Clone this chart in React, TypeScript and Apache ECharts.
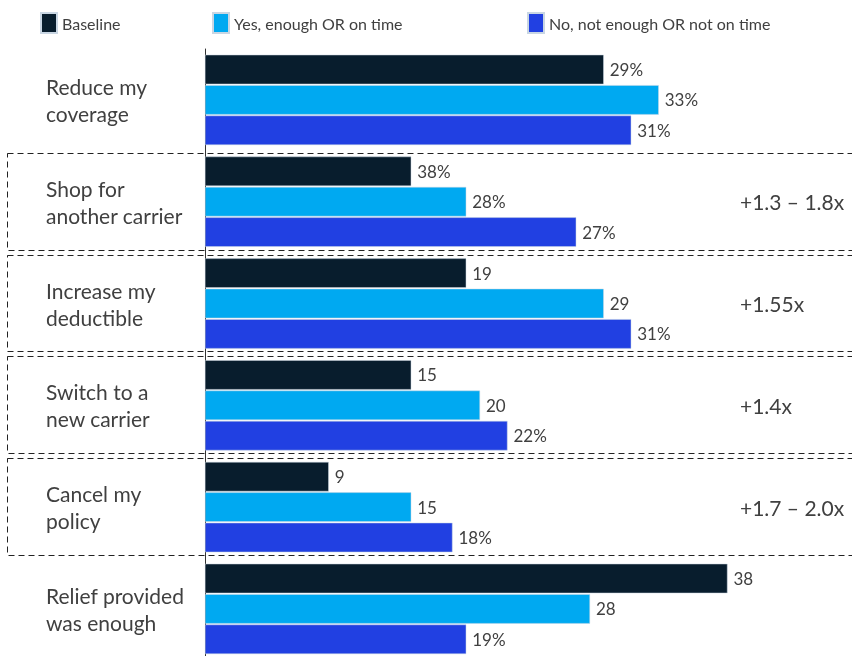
import React, { useEffect, useRef } from "react";
import * as echarts from "echarts";

const categories = [
  "Reduce my\ncoverage",
  "Shop for\nanother carrier",
  "Increase my\ndeductible",
  "Switch to a\nnew carrier",
  "Cancel my\npolicy",
  "Relief provided\nwas enough",
];
const seriesNames = ["Baseline", "Yes, enough OR on time", "No, not enough OR not on time"];
const baselineValues = [29, 15, 19, 15, 9, 38];
const yesValues = [33, 19, 29, 20, 15, 28];
const noValues = [31, 27, 31, 22, 18, 19];
const baselineLabels = ["29%", "38%", "19", "15", "9", "38"];
const yesLabels = ["33%", "28%", "29", "20", "15", "28"];
const noLabels = ["31%", "27%", "31%", "22%", "18%", "19%"];
const annotations = ["", "+1.3 – 1.8x", "+1.55x", "+1.4x", "+1.7 – 2.0x", ""];
const colors = ["#081d2d", "#00a9f1", "#2140e2"];

const FONT = "Lato, 'Open Sans', sans-serif";
const TEXT_COLOR = "#404040";
const GRID_TOP = 49;
const BAND = 101.8;
const GRID_LEFT = 205;

export default function App() {
  const ref = useRef<HTMLDivElement>(null);
  useEffect(() => {
    if (!ref.current) return;
    const chart = echarts.init(ref.current, null, { renderer: "svg" });
    const values = [baselineValues, yesValues, noValues];
    const labels = [baselineLabels, yesLabels, noLabels];
    const legendLeft = [40, 212, 527];

    const graphic: any[] = [];
    annotations.forEach((a, i) => {
      if (!a) return;
      const top = Math.round(GRID_TOP + i * BAND + 2) + 0.5;
      const bottom = Math.round(GRID_TOP + (i + 1) * BAND - 3) + 0.5;
      graphic.push({
        type: "rect",
        shape: { x: 7.5, y: top, width: 900, height: bottom - top },
        style: { fill: "none", stroke: "#222", lineWidth: 1, lineDash: [6, 4] },
        silent: true,
        z: 0,
      });
      graphic.push({
        type: "text",
        x: 740,
        y: GRID_TOP + (i + 0.5) * BAND,
        style: {
          text: a,
          font: `21px ${FONT}`,
          fill: TEXT_COLOR,
          verticalAlign: "middle",
        },
        silent: true,
      });
    });

    chart.setOption({
      animation: false,
      textStyle: { fontFamily: FONT },
      legend: seriesNames.map((n, i) => ({
        data: [n],
        left: legendLeft[i],
        top: 12,
        padding: 0,
        itemWidth: 16,
        itemHeight: 20,
        itemGap: 6,
        icon: "rect",
        textStyle: { fontSize: 16, color: TEXT_COLOR, fontFamily: FONT },
        selectedMode: false,
      })),
      grid: {
        left: GRID_LEFT,
        top: GRID_TOP,
        width: 605,
        height: BAND * 6,
        outerBoundsMode: "none",
        containLabel: false,
      },
      xAxis: {
        type: "value",
        min: 0,
        max: 44,
        show: false,
      },
      yAxis: {
        type: "category",
        inverse: true,
        data: categories,
        axisLine: { show: true, lineStyle: { color: "#333", width: 1 } },
        axisTick: { show: false },
        axisLabel: {
          align: "left",
          margin: 159,
          fontSize: 21,
          lineHeight: 27,
          color: TEXT_COLOR,
          fontFamily: FONT,
        },
      },
      series: values.map((v, si) => ({
        name: seriesNames[si],
        type: "bar",
        data: v,
        barWidth: 29.5,
        barGap: "3%",
        itemStyle: { color: colors[si], borderColor: "#c9d6e3", borderWidth: 0.5 },
        label: {
          show: true,
          position: "right",
          distance: 6,
          fontSize: 17,
          color: TEXT_COLOR,
          fontFamily: FONT,
          formatter: (p: any) => labels[si][p.dataIndex],
        },
        z: 2,
      })),
      graphic,
    });
    return () => chart.dispose();
  }, []);
  return (
    <div
      ref={ref}
      style={{ position: "fixed", left: 0, top: 0, width: 852, height: 656 }}
    />
  );
}
